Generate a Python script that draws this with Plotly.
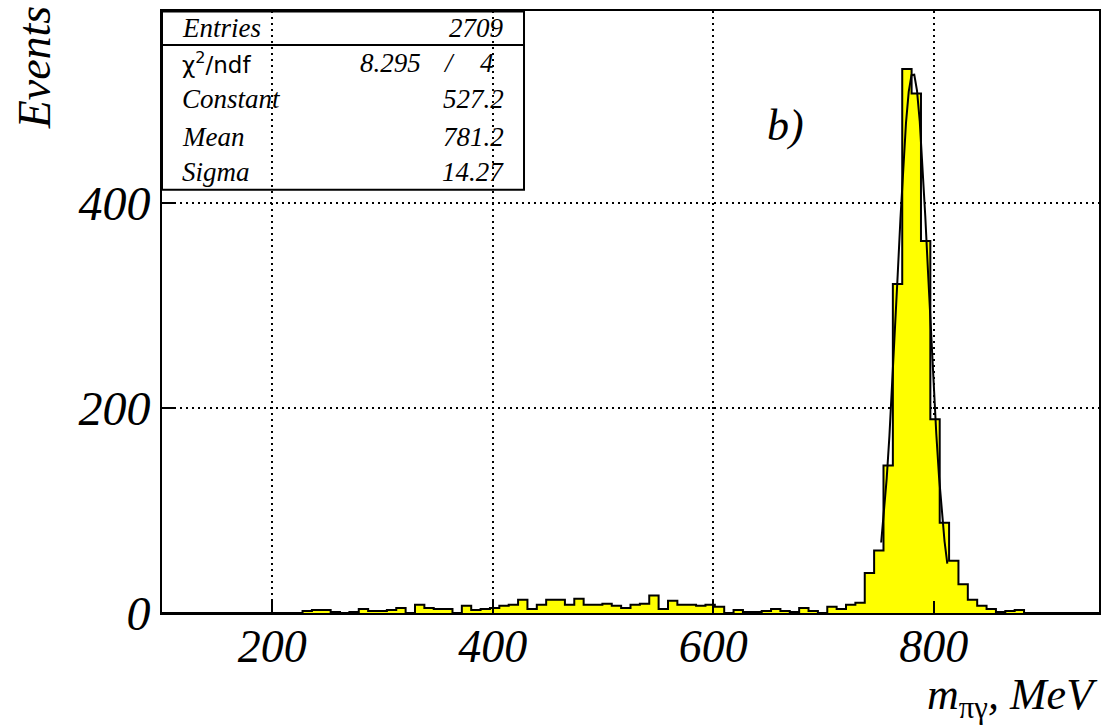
import numpy as np
import plotly.graph_objects as go

# ---- data ----
bin_low = 100.0
bin_width = 8.5
counts = [0]*15 + [
    2, 3, 3, 1, 0, 1, 4, 2, 2, 3,      # 15-24
    5, 0, 8, 5, 4, 4, 0, 7, 3, 4,      # 25-34
    5, 7, 8, 13, 4, 8, 13, 13, 8, 14,  # 35-44
    8, 8, 9, 7, 5, 8, 9, 17, 4, 12,    # 45-54
    8, 8, 7, 8, 6, 0, 3, 1, 1, 2,      # 55-64
    4, 2, 1, 5, 2, 0, 6, 4, 8, 10,     # 65-74
    39, 61, 144, 321, 531, 507, 363, 189, 88, 51,  # 75-84
    28, 13, 7, 4, 1, 2, 3,             # 85-91
] + [0]*8
fit_const = 527.2
fit_mean = 781.2
fit_sigma = 14.27
fit_range = [752.4, 812.4]
entries = 2709
chi2 = 8.295
ndf = 4
x_ticks = [200, 400, 600, 800]
y_ticks = [0, 200, 400]

nb = len(counts)
edges = bin_low + bin_width*np.arange(nb + 1)
ystep = list(counts) + [counts[-1]]

xf = np.linspace(fit_range[0], fit_range[1], 25)
yf = fit_const*np.exp(-0.5*((xf - fit_mean)/fit_sigma)**2)

SERIF = "Liberation Serif"
fig = go.Figure()
fig.add_trace(go.Scatter(x=edges, y=ystep, mode="lines", line_shape="hv",
                         line=dict(color="black", width=2),
                         fill="tozeroy", fillcolor="#FFFF00", hoverinfo="skip"))
fig.add_trace(go.Scatter(x=xf, y=yf, mode="lines",
                         line=dict(color="black", width=2), hoverinfo="skip"))

# stats box
bx0, bx1, by0, by1, bsep = 100, 428.4, 413, 587, 554.4
fig.add_shape(type="rect", x0=bx0, x1=bx1, y0=by0, y1=by1, xref="x", yref="y",
              line=dict(color="black", width=2), fillcolor="rgba(0,0,0,0)")
fig.add_shape(type="line", x0=bx0, x1=bx1, y0=bsep, y1=bsep, xref="x", yref="y",
              line=dict(color="black", width=2))

fs = 27
def txt(x, y, s, anchor, fam=SERIF, style="italic", size=fs):
    fig.add_annotation(x=x, y=y, xref="x", yref="y", text=s, showarrow=False,
                       xanchor=anchor, yanchor="middle",
                       font=dict(family=fam, size=size, color="black", style=style))

rows_y = [571, 537, 502, 465, 430.5]
txt(116, rows_y[0], "Entries", "left")
txt(412, rows_y[0], f"{entries}", "right")
txt(116, rows_y[1], "χ<sup>2</sup>/ndf", "left", fam="DejaVu Sans", style="normal", size=23)
txt(337, rows_y[1], f"{chi2:.3f}", "right")
txt(360.5, rows_y[1], "/", "center")
txt(403, rows_y[1], f"{ndf}", "right")
txt(116, rows_y[2], "Constant", "left")
txt(412, rows_y[2], f"{fit_const:.1f}", "right")
txt(116, rows_y[3], "Mean", "left")
txt(412, rows_y[3], f"{fit_mean:.1f}", "right")
txt(116, rows_y[4], "Sigma", "left")
txt(412, rows_y[4], f"{fit_sigma:.2f}", "right")

# b) label
fig.add_annotation(x=665.7, y=476, xref="x", yref="y", text="b)", showarrow=False,
                   font=dict(family=SERIF, size=44, color="black", style="italic"))

# axis titles
fig.add_annotation(x=-0.136, y=1.012, xref="paper", yref="paper", text="Events",
                   textangle=-90, showarrow=False, xanchor="center", yanchor="top",
                   font=dict(family=SERIF, size=46, color="black", style="italic"))
fig.add_annotation(x=1.001, y=-0.19, xref="paper", yref="paper",
                   text="m<sub><span style=\"font-style:normal\">πγ</span></sub>, MeV",
                   showarrow=False, xanchor="right", yanchor="bottom",
                   font=dict(family=SERIF, size=44, color="black", style="italic"))

axis_common = dict(showline=True, linewidth=2, linecolor="black", mirror=True,
                   ticks="inside", ticklen=12, tickwidth=1.5, tickcolor="black",
                   showgrid=True, gridcolor="black", gridwidth=1.8, griddash="2px,4px",
                   zeroline=False)
fig.update_xaxes(range=[100, 950], tickvals=x_ticks, ticktext=[str(v) for v in x_ticks],
                 tickfont=dict(family=SERIF, size=46, color="black", style="italic"),
                 ticklabelstandoff=-8, **axis_common)
fig.update_yaxes(range=[0, 587.5], tickvals=y_ticks, ticktext=[str(v) for v in y_ticks],
                 tickfont=dict(family=SERIF, size=48, color="black", style="italic"),
                 **axis_common)
fig.update_layout(width=1108, height=728, showlegend=False,
                  margin=dict(l=162, r=7, t=11, b=114.5),
                  paper_bgcolor="white", plot_bgcolor="white")
fig.write_html("out.html")
